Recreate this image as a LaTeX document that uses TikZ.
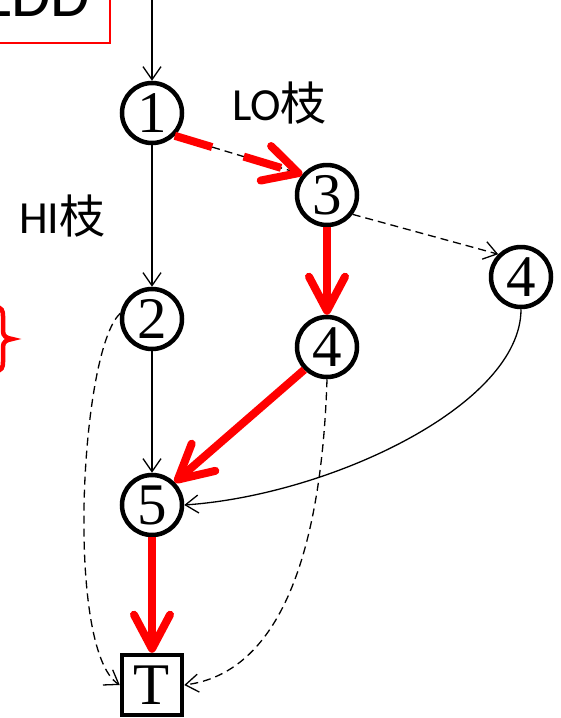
\documentclass[tikz,border=0pt]{standalone}
\usepackage{fontspec}
\setmainfont{Liberation Serif}
\newfontfamily\latinsans{Carlito}
\newfontfamily\cjksans{Noto Sans CJK SC}
\usetikzlibrary{arrows.meta}
\begin{document}
\begin{tikzpicture}[x=1pt,y=-1pt,
  vertex/.style={circle,draw,line width=4.5pt,minimum size=60pt,inner sep=0pt,
    font=\fontsize{59}{59}\selectfont},
  sink/.style={rectangle,draw,line width=4.5pt,minimum size=60pt,inner sep=0pt,
    font=\fontsize{59}{59}\selectfont},
  thinedge/.style={line width=1.3pt,-{Straight Barb[length=13pt,width=18pt]}},
  zeroedge/.style={thinedge,dash pattern=on 8pt off 5pt},
  pathedge/.style={red,line width=8pt,-{Straight Barb[length=34pt,width=36pt,round]}},
  branch/.style={inner sep=0pt,anchor=base west,font=\fontsize{46}{46}\selectfont}]

\clip (0,0) rectangle (561,718);

% title box, partly outside the frame
\draw[red,line width=1.5pt] (-30,-30) rectangle (110,43);
\node[inner sep=0pt,anchor=base east,font=\latinsans\fontsize{64}{64}\selectfont] (title) at (90,16) {LDD};

% red brace on the left
\draw[red,line width=4.5pt]
  (-5,307) .. controls (2,307) and (3,311) .. (3,316) -- (3,331)
  .. controls (3,336) and (6,338) .. (12,339)
  .. controls (6,340) and (3,342) .. (3,347) -- (3,362)
  .. controls (3,367) and (2,371) .. (-5,371);

% nodes
\node[vertex] (n1) at (152,113) {1};
\node[vertex] (n2) at (152,319) {2};
\node[vertex] (n3) at (327,195) {3};
\node[vertex] (n4m) at (327,347) {4};
\node[vertex] (n4r) at (521,277) {4};
\node[vertex] (n5) at (152,505) {5};
\node[sink] (t) at (152,685) {T};

% branch labels
\node[branch] (lo) at (232,120) {{\latinsans LO}{\cjksans 枝}};
\node[branch] (hi) at (19,233) {{\latinsans HI}{\cjksans 枝}};

% incoming edge
\coordinate (top) at (152,-2);
\draw[thinedge] (top) -- (n1.north);

% HI edges (solid) and LO edges (dashed)
\draw[thinedge] (n1.south) -- (n2.north);
\draw[thinedge] (n2.south) -- (n5.north);
\draw[zeroedge] (n1.-45) -- (n3.140);
\draw[zeroedge] (n3.-37) -- (n4r.135);
\draw[zeroedge] (n2.170) .. controls (80,350) and (65,650) .. (t.west);
\draw[zeroedge] (n4m.south) .. controls (322,540) and (285,672) .. (t.east);
\draw[thinedge] (n4r.south) .. controls (521,405) and (330,495) .. (n5.east);

% highlighted path
\draw[pathedge,dash pattern=on 39pt off 33pt] (n1.-45) -- (n3.140);
\draw[pathedge] (n3.south) -- (n4m.north);
\draw[pathedge] (n4m.225) -- (n5.45);
\draw[pathedge] (n5.south) -- (t.north);
\end{tikzpicture}
\end{document}
